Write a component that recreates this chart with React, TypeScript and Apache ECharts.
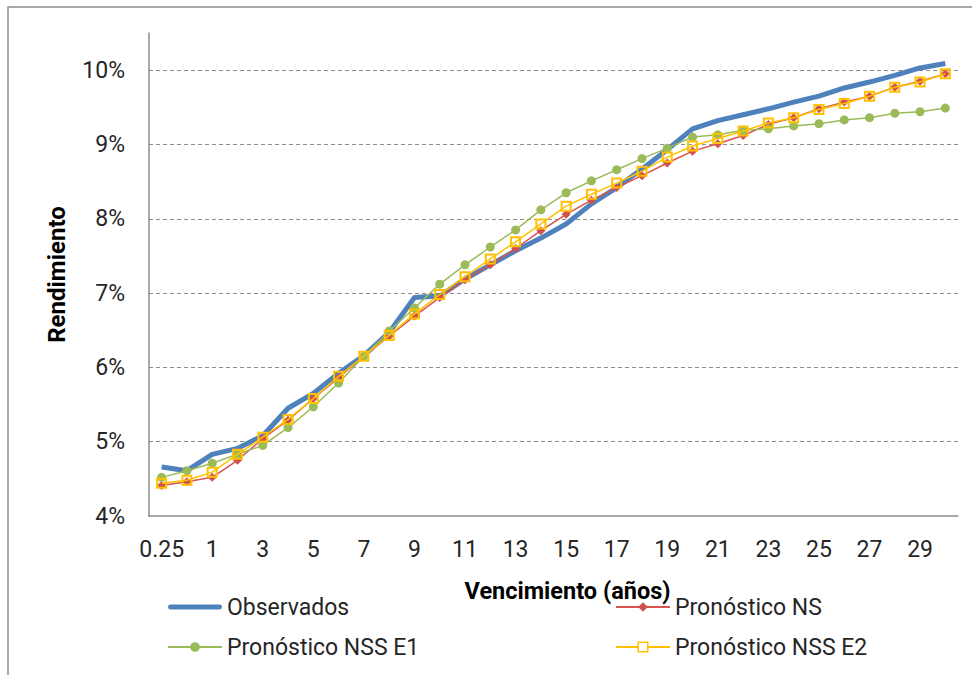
import React, { useEffect, useRef } from "react";
import * as echarts from "echarts";

const categories = ["0.25", "0.5", "1", "2", "3", "4", "5", "6", "7", "8", "9", "10", "11", "12", "13", "14", "15", "16", "17", "18", "19", "20", "21", "22", "23", "24", "25", "26", "27", "28", "29", "30"];

const observados = [4.66, 4.61, 4.83, 4.91, 5.08, 5.45, 5.65, 5.92, 6.16, 6.47, 6.94, 6.96, 7.19, 7.38, 7.57, 7.74, 7.93, 8.2, 8.42, 8.67, 8.93, 9.21, 9.32, 9.4, 9.48, 9.57, 9.65, 9.76, 9.84, 9.93, 10.03, 10.09];
const pronosticoNS = [4.41, 4.46, 4.52, 4.75, 5.04, 5.29, 5.58, 5.86, 6.15, 6.42, 6.69, 6.94, 7.18, 7.38, 7.6, 7.84, 8.06, 8.25, 8.42, 8.58, 8.75, 8.91, 9.01, 9.12, 9.27, 9.36, 9.48, 9.57, 9.65, 9.77, 9.85, 9.95];
const pronosticoE1 = [4.52, 4.61, 4.71, 4.83, 4.95, 5.19, 5.47, 5.79, 6.15, 6.49, 6.8, 7.12, 7.38, 7.62, 7.85, 8.12, 8.35, 8.51, 8.66, 8.81, 8.95, 9.1, 9.13, 9.19, 9.21, 9.25, 9.28, 9.33, 9.36, 9.42, 9.44, 9.49];
const pronosticoE2 = [4.44, 4.48, 4.59, 4.83, 5.06, 5.3, 5.58, 5.88, 6.15, 6.43, 6.72, 6.98, 7.22, 7.46, 7.69, 7.93, 8.17, 8.33, 8.48, 8.64, 8.83, 8.98, 9.08, 9.18, 9.29, 9.36, 9.47, 9.55, 9.65, 9.77, 9.84, 9.95];

const gridLevels = [5, 6, 7, 8, 9, 10];

const seriesNames = ["Observados", "Pronóstico NS", "Pronóstico NSS E1", "Pronóstico NSS E2"];

export default function App() {
  const ref = useRef<HTMLDivElement>(null);

  useEffect(() => {
    if (!ref.current) return;
    const chart = echarts.init(ref.current, null, { renderer: "svg" });
    const font = "Roboto";
    const textColor = "#262626";
    const legendText = { fontFamily: font, fontSize: 23, color: textColor, lineHeight: 26 };
    const legendCommon = {
      orient: "vertical",
      top: 594,
      padding: 0,
      itemWidth: 54,
      itemHeight: 12,
      itemGap: 14,
      textStyle: legendText,
    };

    chart.setOption({
      animation: false,
      backgroundColor: "#ffffff",
      graphic: [
        {
          type: "rect",
          shape: { x: 8, y: 7, width: 990, height: 700 },
          style: { fill: "none", stroke: "#8c8c8c", lineWidth: 1.5 },
          silent: true,
        },
      ],
      legend: [
        {
          ...legendCommon,
          left: 167,
          data: [
            { name: seriesNames[0], icon: "path://M2,0 L52,0 A2.5,2.5 0 0 1 52,5 L2,5 A2.5,2.5 0 0 1 2,0 Z" },
            { name: seriesNames[2] },
          ],
        },
        {
          ...legendCommon,
          left: 615,
          data: [
            { name: seriesNames[1] },
            { name: seriesNames[3], itemStyle: { color: "#ffffff", borderColor: "#FFC000", borderWidth: 1.5 } },
          ],
        },
      ],
      grid: { left: 149, right: 14, top: 33, bottom: 159, containLabel: false },
      xAxis: {
        type: "category",
        data: categories,
        boundaryGap: true,
        axisLine: { show: true, lineStyle: { color: "#8c8c8c", width: 1.5 } },
        axisTick: { show: false },
        axisLabel: { interval: 1, margin: 22, fontFamily: font, fontSize: 23, color: textColor },
        name: "Vencimiento (años)",
        nameLocation: "middle",
        nameGap: 63,
        nameTextStyle: { fontFamily: font, fontSize: 23.5, fontWeight: "bold", color: "#000", padding: [0, 0, 0, 28] },
        splitLine: { show: false },
      },
      yAxis: {
        type: "value",
        min: 4,
        max: 10.5,
        interval: 1,
        axisLine: { show: true, lineStyle: { color: "#8c8c8c", width: 1.5 } },
        axisTick: { show: false },
        axisLabel: {
          margin: 24,
          fontFamily: font,
          fontSize: 23,
          color: textColor,
          formatter: (v: number) => (Number.isInteger(v) ? v + "%" : ""),
        },
        splitLine: { show: false },
        name: "Rendimiento",
        nameLocation: "middle",
        nameGap: 80,
        nameTextStyle: { fontFamily: font, fontSize: 24, fontWeight: "bold", color: "#000" },
      },
      series: [
        {
          name: seriesNames[0],
          type: "line",
          data: observados,
          showSymbol: false,
          symbol: "none",
          lineStyle: { color: "#4F81BD", width: 5 },
          itemStyle: { color: "#4F81BD" },
          markLine: {
            silent: true,
            symbol: "none",
            label: { show: false },
            lineStyle: { color: "#8c8c8c", type: [4, 3], width: 1 },
            data: gridLevels.map((v) => ({ yAxis: v })),
            z: 0,
          },
          z: 2,
        },
        {
          name: seriesNames[1],
          type: "line",
          data: pronosticoNS,
          symbol: "diamond",
          symbolSize: 9,
          lineStyle: { color: "#D9534F", width: 1.5 },
          itemStyle: { color: "#D0504D" },
          z: 3,
        },
        {
          name: seriesNames[2],
          type: "line",
          data: pronosticoE1,
          symbol: "circle",
          symbolSize: 9,
          lineStyle: { color: "#9BBB59", width: 1.5 },
          itemStyle: { color: "#9BBB59" },
          z: 4,
        },
        {
          name: seriesNames[3],
          type: "line",
          data: pronosticoE2,
          symbol: "rect",
          symbolSize: 9,
          lineStyle: { color: "#FFC000", width: 1.5 },
          itemStyle: { color: "rgba(255,255,255,0)", borderColor: "#FFC000", borderWidth: 2 },
          z: 5,
        },
      ],
    });

    return () => chart.dispose();
  }, []);

  return (
    <div
      ref={ref}
      style={{ position: "fixed", left: 0, top: 0, width: 972, height: 675, background: "#fff" }}
    />
  );
}
